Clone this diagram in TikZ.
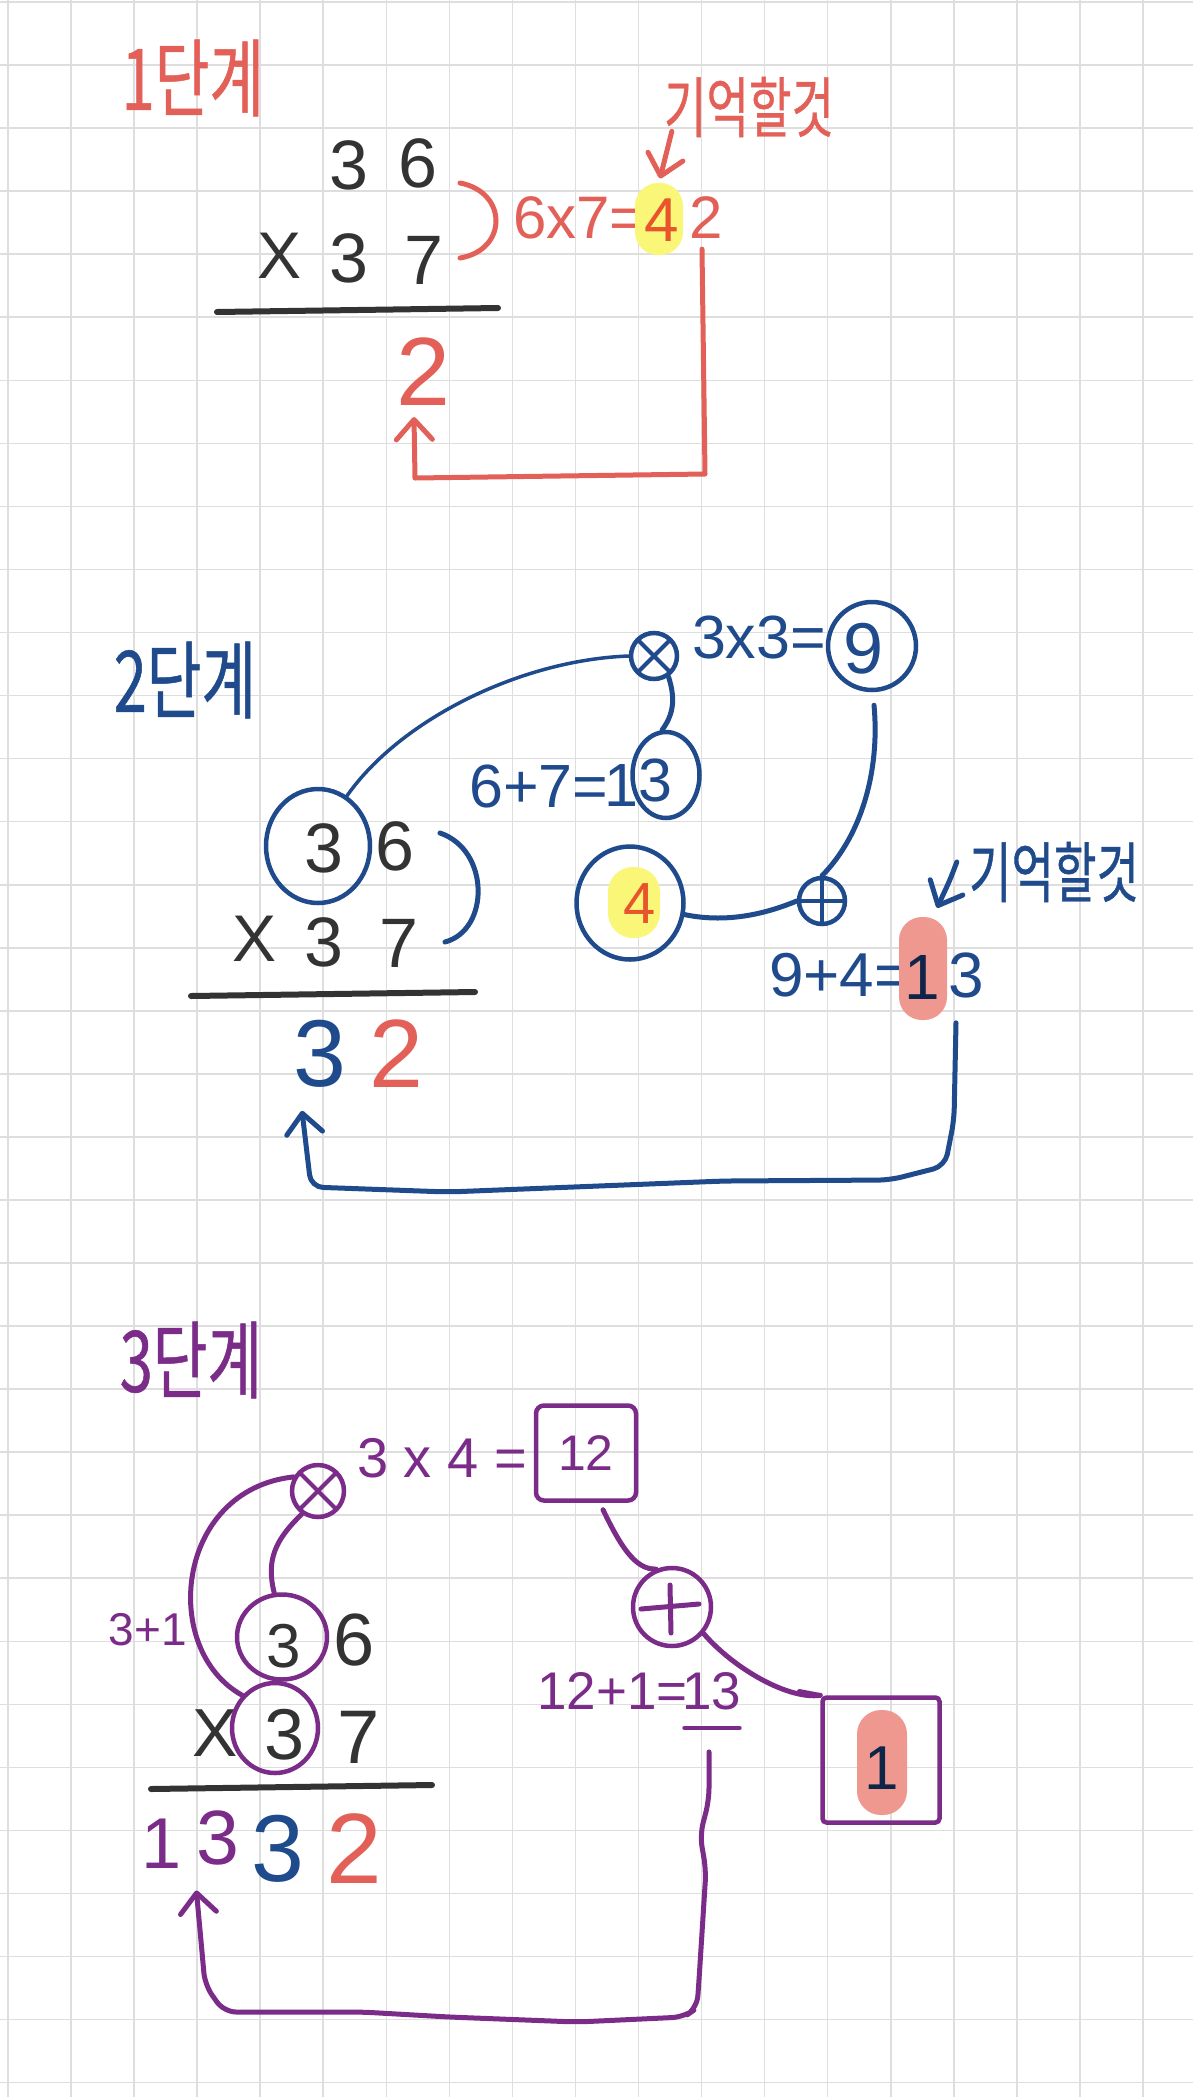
\documentclass[tikz,border=0pt]{standalone}
\usepackage{fontspec}
\usetikzlibrary{shapes.geometric,arrows.meta,calc}
\newfontfamily\hwfont{Liberation Sans}
\newfontfamily\krfont[FakeStretch=0.7,FakeBold=0.6]{Noto Sans CJK KR}
\definecolor{cred}{RGB}{226,96,88}
\definecolor{corange}{RGB}{232,84,44}
\definecolor{cblue}{RGB}{31,74,140}
\definecolor{cpurple}{RGB}{122,44,136}
\definecolor{cdark}{RGB}{51,51,51}
\definecolor{cyellow}{RGB}{250,246,120}
\definecolor{cpink}{RGB}{238,152,144}
\definecolor{cnavy}{RGB}{14,36,72}
\definecolor{cgrid}{RGB}{222,222,222}
\begin{document}
\begin{tikzpicture}[x=1pt,y=-1pt,
  dg/.style={inner sep=0pt, font=\hwfont\fontsize{#1}{#1}\selectfont},
  kr/.style={inner sep=0pt, font=\krfont\fontsize{#1}{#1}\selectfont},
  pen/.style={line width=5pt, line cap=round, line join=round},
  ring/.style={draw, ellipse, inner sep=0pt, line width=4.5pt},
  barb/.style={-{Straight Barb[length=20pt,width=36pt,line cap=round,line join=round]}},
  crossmark/.style={path picture={\draw[line width=4pt, #1] (path picture bounding box.north west) -- (path picture bounding box.south east) (path picture bounding box.north east) -- (path picture bounding box.south west);}},
  plusmark/.style={path picture={\draw[line width=4pt, #1] (path picture bounding box.north) -- (path picture bounding box.south) (path picture bounding box.east) -- (path picture bounding box.west);}},
  rule/.style={line width=6pt, cdark, line cap=round}
]
\useasboundingbox (0,0) rectangle (1193,2097);
\fill[white] (0,0) rectangle (1193,2097);
\foreach \i in {0,...,18} \draw[cgrid, line width=1.6pt] ({8+63.05*\i},0) -- ({8+63.05*\i},2097);
\foreach \j in {0,...,33} \draw[cgrid, line width=1.6pt] (0,{2+63.05*\j}) -- (1193,{2+63.05*\j});

% ================= Section 1 =================
\node[kr=85, text=cred] (t1) at (193,78) {1단계};
\node[dg=70, text=cdark] (s1a) at (349,165) {3};
\node[dg=70, text=cdark] (s1b) at (418,163) {6};
\node[dg=66, text=cdark] (s1x) at (280,256) {X};
\node[dg=70, text=cdark] (s1c) at (349,258) {3};
\node[dg=70, text=cdark] (s1d) at (424,260) {7};
\draw[rule] (217,312) -- (498,308);
\node[dg=97, text=cred] (r1) at (423,372) {2};
\draw[pen, cred] (460,183) .. controls (508,192) and (508,250) .. (460,258);
\node[dg=60, text=cred, anchor=west] (e1) at (513,218) {6x7=};
\fill[cyellow, rounded corners=23pt] (635,183) rectangle (683,255);
\node[dg=62, text=corange] (f1) at (662,220) {4};
\node[dg=60, text=cred] (g1) at (706,218) {2};
\node[kr=66, text=cred] (m1) at (749,107) {기억할것};
\draw[pen, cred, barb] ($(m1.south west)+(8,-6)$) -- ($(f1.north)+(-2,-20)$);
\draw[pen, cred, barb] ($(g1.south)+(-4,10)$) -- (705,474) -- (415,478) -- ($(r1.south)+(-9,11)$);

% ================= Section 2 =================
\node[kr=85, text=cblue] (t2) at (185,680) {2단계};
\node[dg=70, text=cdark] (s2a) at (324,848) {3};
\node[dg=70, text=cdark] (s2b) at (395,846) {6};
\node[ring, cblue, minimum width=104pt, minimum height=114pt] (o2a) at (318,846) {};
\node[dg=66, text=cdark] (s2x) at (255,939) {X};
\node[dg=70, text=cdark] (s2c) at (324,942) {3};
\node[dg=70, text=cdark] (s2d) at (399,943) {7};
\draw[rule] (191,996) -- (475,992);
\draw[pen, cblue] (440,833) .. controls (490,850) and (490,930) .. (445,942);
\node[dg=95, text=cblue] (r2a) at (320,1054) {3};
\node[dg=97, text=cred] (r2b) at (396,1054) {2};

\node[draw, circle, cblue, line width=4.5pt, minimum size=46pt, inner sep=0pt, crossmark=cblue] (x2) at (654,656) {};
\node[dg=61, text=cblue] (e2a) at (759,637) {3x3=};
\node[ring, cblue, minimum width=88pt, minimum height=88pt] (o2n) at (872,646) {};
\node[dg=72, text=cblue] (n2) at (864,649) {9};
\node[dg=61, text=cblue, anchor=west] (e2b) at (469,786) {6+7=};
\node[dg=61, text=cblue] (e2one) at (621,786) {1};
\node[ring, cblue, minimum width=67pt, minimum height=86pt] (o2t) at (666,775) {};
\node[dg=61, text=cblue] (e2three) at (655,780) {3};
\fill[cyellow, rounded corners=25pt] (608,867) rectangle (660,938);
\node[dg=58, text=corange] (f2) at (640,904) {4};
\node[ring, cblue, minimum width=107pt, minimum height=113pt] (o2f) at (630,903) {};
\node[draw, circle, cblue, line width=4.5pt, minimum size=46pt, inner sep=0pt, plusmark=cblue] (p2) at (822,901) {};

\draw[pen, cblue, line width=3.5pt] (o2a.60) .. controls (400,720) and (520,660) .. (x2.west);
\draw[pen, cblue] (x2.-55) .. controls (676,700) and (673,715) .. (o2t.95);
\draw[pen, cblue] (o2f.-12) .. controls (730,924) and (770,912) .. (p2.west);
\draw[pen, cblue] ($(o2n.south)+(2,13)$) .. controls (880,770) and (862,835) .. (p2.north);

\node[dg=62, text=cblue, anchor=west] (e2c) at (769,975) {9+4=};
\fill[cpink, rounded corners=23pt] (899,917) rectangle (947,1020);
\node[dg=64, text=cnavy] (one2) at (922,977) {1};
\node[dg=64, text=cblue] (th2) at (966,975) {3};
\node[kr=66, text=cblue] (m2) at (1054,872) {기억할것};
\draw[pen, cblue, barb] ($(m2.west)+(-12,-10)$) .. controls (950,880) .. ($(one2.north)+(15,-47)$);
\draw[pen, cblue, barb, rounded corners=12pt] ($(th2.south)+(-10,25)$) -- (954,1120) -- (945,1166) -- (890,1180) -- (724,1181) -- (448,1192) -- (311,1187) -- ($(r2a.south)+(-18,23)$);

% ================= Section 3 =================
\node[kr=85, text=cpurple] (t3) at (191,1360) {3단계};
\node[draw, circle, cpurple, line width=4.5pt, minimum size=52pt, inner sep=0pt, crossmark=cpurple] (x3) at (318,1491) {};
\node[dg=56, text=cpurple] (e3a) at (442,1458) {3 x 4 =};
\node[draw, cpurple, line width=4.5pt, rounded corners=8pt, minimum width=100pt, minimum height=95pt, inner sep=0pt, font=\hwfont\fontsize{50}{50}\selectfont] (b12) at (586,1453) {12};

\node[draw, circle, cpurple, line width=4.5pt, minimum size=78pt, inner sep=0pt] (p3) at (672,1607) {};
\draw[pen, cpurple] ($(p3.center)+(-31,2)$) -- ($(p3.center)+(27,-3)$);
\draw[pen, cpurple] ($(p3.center)+(-2,-22)$) -- ($(p3.center)+(-1,26)$);
\draw[pen, cpurple] ($(b12.south)+(17,7)$) .. controls (620,1545) and (635,1570) .. (p3.113);

\node[dg=53, text=cpurple, anchor=west] (e3b) at (537,1691) {12+1=};
\node[dg=53, text=cpurple] (t13) at (712,1691) {13};
\draw[pen, cpurple, line width=4pt] ($(t13.south west)+(2,18)$) -- ($(t13.south east)+(-2,18)$);

\fill[cpink, rounded corners=24pt] (857,1710) rectangle (907,1815);
\node[draw, cpurple, line width=4.5pt, rounded corners=4pt, minimum width=117pt, minimum height=125pt, inner sep=0pt] (b1) at (881,1760) {};
\draw[pen, cpurple, line width=4.5pt] (b1.north west) -- ++(-21,-4);
\node[dg=62, text=cnavy] (one3) at (882,1768) {1};
\draw[pen, cpurple] (p3.-40) .. controls (735,1670) and (790,1700) .. (b1.north west);

\node[dg=62, text=cdark] (s3a) at (284,1646) {3};
\node[dg=74, text=cdark] (s3b) at (354,1640) {6};
\node[ring, cpurple, minimum width=90pt, minimum height=85pt] (o3a) at (282,1637) {};
\node[dg=68, text=cdark] (s3x) at (215,1733) {X};
\node[dg=72, text=cdark] (s3c) at (285,1735) {3};
\node[dg=76, text=cdark] (s3d) at (359,1737) {7};
\node[ring, cpurple, minimum width=86pt, minimum height=90pt] (o3b) at (275,1728) {};
\draw[rule] (151,1789) -- (432,1785);
\node[dg=46, text=cpurple] (l31) at (148,1630) {3+1};

\draw[pen, cpurple] (x3.235) .. controls (275,1540) and (266,1560) .. (o3a.100);
\draw[pen, cpurple] (x3.150) .. controls (175,1490) and (160,1650) .. (o3b.135);

\node[dg=72, text=cpurple] (a3a) at (162,1844) {1};
\node[dg=77, text=cpurple] (a3b) at (218,1838) {3};
\node[dg=95, text=cblue] (a3c) at (278,1849) {3};
\node[dg=100, text=cred] (a3d) at (354,1849) {2};

\draw[pen, cpurple, barb, rounded corners=12pt] ($(t13.south)+(-3,42)$) -- (709,1800) -- (700,1835) -- (706,1870) -- (699,1980) -- (697,2008) -- (684,2017) -- (577,2022) -- (449,2017) -- (362,2012) -- (224,2012) -- (205,1985) -- ($(a3b.south west)+(0,25)$);
\end{tikzpicture}
\end{document}
